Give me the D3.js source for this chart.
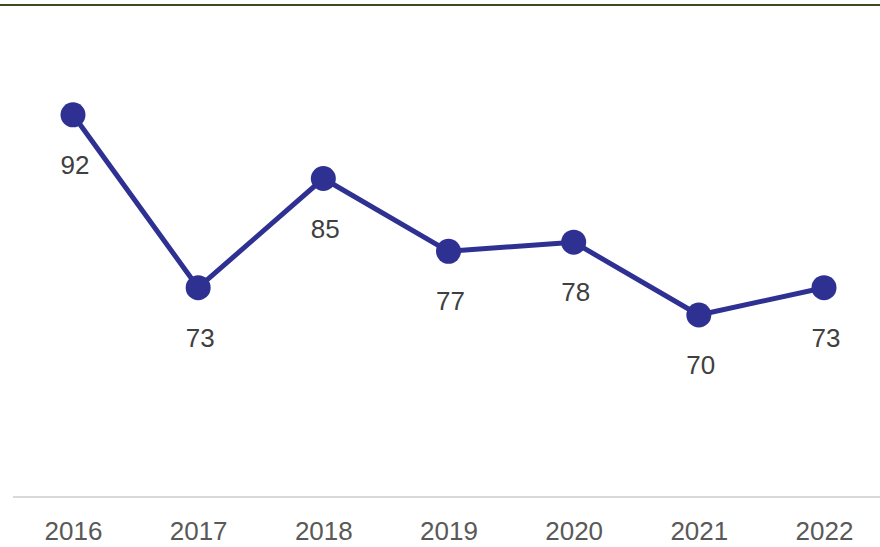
<!DOCTYPE html>
<html>
<head>
<meta charset="utf-8">
<script src="https://cdn.jsdelivr.net/npm/d3@7/dist/d3.min.js"></script>
<style>
  html, body { margin: 0; padding: 0; background: #ffffff; }
  svg { display: block; }
  text { font-family: "Liberation Sans", Arial, sans-serif; }
</style>
</head>
<body>
<svg id="chart" width="880" height="547"></svg>
<script>
// Yearly values
const years = ["2016", "2017", "2018", "2019", "2020", "2021", "2022"];
const values = [92, 73, 85, 77, 78, 70, 73];

const W = 880, H = 547;
const svg = d3.select("#chart");

// top rule
svg.append("line")
  .attr("x1", 0).attr("x2", W)
  .attr("y1", 5).attr("y2", 5)
  .attr("stroke", "#3b4a20").attr("stroke-width", 2);

const baseY = 497;
const x = d3.scalePoint().domain(years).range([73, 824]);
const y = d3.scaleLinear().domain([50, 100]).range([baseY, 42]);

// x axis
const xAxis = svg.append("g")
  .attr("transform", `translate(0,${baseY})`)
  .call(d3.axisBottom(x).tickSize(0).tickPadding(25));
xAxis.select(".domain").remove();
xAxis.append("line")
  .attr("x1", 13).attr("x2", W)
  .attr("stroke", "#d9d9d9").attr("stroke-width", 2);
xAxis.selectAll(".tick text")
  .attr("font-size", 26)
  .attr("fill", "#595959")
  .attr("font-family", "Liberation Sans, Arial, sans-serif");

const data = years.map((yr, i) => ({ yr, v: values[i] }));

// series line
svg.append("path")
  .datum(data)
  .attr("fill", "none")
  .attr("stroke", "#2e3192")
  .attr("stroke-width", 5)
  .attr("stroke-linejoin", "round")
  .attr("d", d3.line().x(d => x(d.yr)).y(d => y(d.v)));

// markers
svg.append("g").selectAll("circle")
  .data(data).join("circle")
  .attr("cx", d => x(d.yr))
  .attr("cy", d => y(d.v))
  .attr("r", 12.5)
  .attr("fill", "#2e3192");

// value labels below each point
svg.append("g").selectAll("text")
  .data(data).join("text")
  .attr("x", d => x(d.yr) + 2)
  .attr("y", d => y(d.v) + 59)
  .attr("text-anchor", "middle")
  .attr("font-size", 26)
  .attr("fill", "#404040")
  .text(d => d.v);
</script>
</body>
</html>
